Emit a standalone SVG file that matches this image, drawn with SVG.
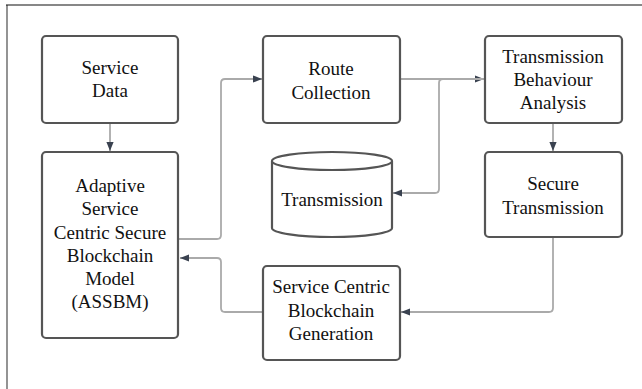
<svg xmlns="http://www.w3.org/2000/svg" width="642" height="389" viewBox="0 0 642 389">
<defs>
<marker id="ah" viewBox="0 0 10 10" refX="10" refY="5" markerWidth="9" markerHeight="9" markerUnits="userSpaceOnUse" orient="auto">
<path d="M0,1 L10,5 L0,9 z" fill="#3a4250"/>
</marker>
</defs>
<rect width="642" height="389" fill="#fff"/>
<line x1="7" y1="5" x2="7" y2="389" stroke="#888" stroke-width="1.8"/>
<line x1="6" y1="5" x2="642" y2="5" stroke="#111" stroke-width="1.2"/>
<g id="connectors" fill="none" stroke="#aaa" stroke-width="1.8">
<path d="M110,123 V151" marker-end="url(#ah)"/>
<path d="M179,239 H217 Q221,239 221,235 V83 Q221,79 225,79 H262" marker-end="url(#ah)"/>
<path d="M401,79 H484" marker-end="url(#ah)"/>
<path d="M484,79 H443 Q439,79 439,83 V189 Q439,193 435,193 H393" marker-end="url(#ah)"/>
<path d="M553,123 V151" marker-end="url(#ah)"/>
<path d="M553,238 V308 Q553,312 549,312 H401" marker-end="url(#ah)"/>
<path d="M262,312 H225 Q221,312 221,308 V262 Q221,258 217,258 H180" marker-end="url(#ah)"/>
</g>
<g id="service-data">
<rect fill="#fff" stroke="#555" stroke-width="2.2" x="42" y="36" width="136" height="87" rx="4"/>
<text font-family="Liberation Serif" font-size="19" fill="#111" text-anchor="middle" x="110" y="74">Service</text>
<text font-family="Liberation Serif" font-size="19" fill="#111" text-anchor="middle" x="110" y="97">Data</text>
</g>
<g id="route-collection">
<rect fill="#fff" stroke="#555" stroke-width="2.2" x="263" y="36" width="137" height="87" rx="4"/>
<text font-family="Liberation Serif" font-size="19" fill="#111" text-anchor="middle" x="331" y="75">Route</text>
<text font-family="Liberation Serif" font-size="19" fill="#111" text-anchor="middle" x="331" y="99">Collection</text>
</g>
<g id="transmission-behaviour-analysis">
<rect fill="#fff" stroke="#555" stroke-width="2.2" x="485" y="36" width="137" height="87" rx="4"/>
<text font-family="Liberation Serif" font-size="19" fill="#111" text-anchor="middle" x="553" y="63">Transmission</text>
<text font-family="Liberation Serif" font-size="19" fill="#111" text-anchor="middle" x="553" y="86">Behaviour</text>
<text font-family="Liberation Serif" font-size="19" fill="#111" text-anchor="middle" x="553" y="109">Analysis</text>
</g>
<g id="assbm">
<rect fill="#fff" stroke="#555" stroke-width="2.2" x="42" y="152" width="136" height="186" rx="4"/>
<text font-family="Liberation Serif" font-size="19" fill="#111" text-anchor="middle" x="110" y="192">Adaptive</text>
<text font-family="Liberation Serif" font-size="19" fill="#111" text-anchor="middle" x="110" y="215">Service</text>
<text font-family="Liberation Serif" font-size="19" fill="#111" text-anchor="middle" x="110" y="239">Centric Secure</text>
<text font-family="Liberation Serif" font-size="19" fill="#111" text-anchor="middle" x="110" y="262">Blockchain</text>
<text font-family="Liberation Serif" font-size="19" fill="#111" text-anchor="middle" x="110" y="285">Model</text>
<text font-family="Liberation Serif" font-size="19" fill="#111" text-anchor="middle" x="110" y="308">(ASSBM)</text>
</g>
<g id="transmission-db">
<path fill="#fff" stroke="#555" stroke-width="2.2" d="M272,161 V228 A60,9 0 0 0 392,228 V161 A60,9 0 0 0 272,161 A60,9 0 0 0 392,161"/>
<text font-family="Liberation Serif" font-size="19" fill="#111" text-anchor="middle" x="332" y="206">Transmission</text>
</g>
<g id="secure-transmission">
<rect fill="#fff" stroke="#555" stroke-width="2.2" x="485" y="152" width="137" height="85" rx="4"/>
<text font-family="Liberation Serif" font-size="19" fill="#111" text-anchor="middle" x="553" y="190">Secure</text>
<text font-family="Liberation Serif" font-size="19" fill="#111" text-anchor="middle" x="553" y="214">Transmission</text>
</g>
<g id="scbg">
<rect fill="#fff" stroke="#555" stroke-width="2.2" x="263" y="266" width="137" height="94" rx="4"/>
<text font-family="Liberation Serif" font-size="19" fill="#111" text-anchor="middle" x="331" y="293">Service Centric</text>
<text font-family="Liberation Serif" font-size="19" fill="#111" text-anchor="middle" x="331" y="317">Blockchain</text>
<text font-family="Liberation Serif" font-size="19" fill="#111" text-anchor="middle" x="331" y="340">Generation</text>
</g>
</svg>
